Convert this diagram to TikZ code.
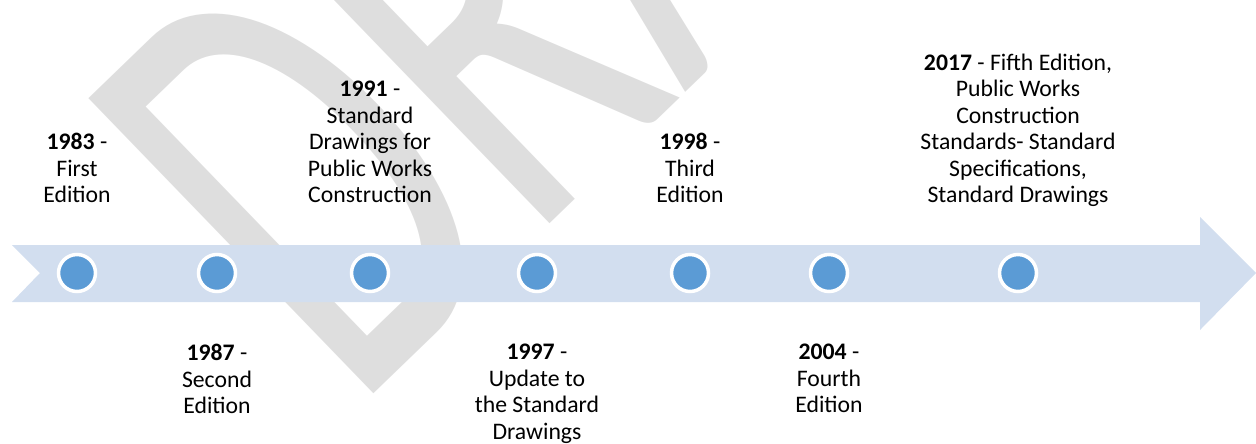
\documentclass[tikz,border=0pt]{standalone}
\usepackage{fontspec}
\setmainfont{Carlito}
\definecolor{bandblue}{HTML}{D2DEEF}
\definecolor{dotblue}{HTML}{5B9BD5}
\definecolor{wmgray}{HTML}{DEDEDE}
\begin{document}
\begin{tikzpicture}[x=0.02cm, y=-0.02cm,
    dot/.style={circle, draw=white, line width=2pt, fill=dotblue, minimum size=0.74cm, inner sep=0pt},
    toplabel/.style={align=center, anchor=south, inner sep=0pt, text depth=0pt, font=\fontsize{13.5}{15.1}\selectfont},
    botlabel/.style={align=center, anchor=north, inner sep=0pt, font=\fontsize{13.5}{15.1}\selectfont}
]
    \useasboundingbox (0,0) rectangle (1256,443);

    % watermark
    \begin{scope}
        \clip (0,0) rectangle (1256,443);
        \node[text=wmgray, rotate=44, xscale=0.62, anchor=base west, inner sep=0pt, font=\fontsize{364}{364}\selectfont] (draft) at (354,413) {DRAFT};
    \end{scope}

    % timeline arrow
    \fill[bandblue] (12,245) -- (1200,245) -- (1200,217) -- (1256,273) -- (1200,330)
        -- (1200,302) -- (12,302) -- (40,273) -- cycle;

    \node[dot] (d1983) at (77,273) {};
    \node[dot] (d1987) at (217,273) {};
    \node[dot] (d1991) at (370,273) {};
    \node[dot] (d1997) at (537,273) {};
    \node[dot] (d1998) at (690,273) {};
    \node[dot] (d2004) at (829,273) {};
    \node[dot] (d2017) at (1018,273) {};

    % labels
    \node[toplabel] (l1983) at (77,203) {\textbf{1983} -\\First\\Edition};
    \node[botlabel] (l1987) at (217,344) {\textbf{1987} -\\Second\\Edition};
    \node[toplabel] (l1991) at (370,203) {\textbf{1991} -\\Standard\\Drawings for\\Public Works\\Construction};
    \node[botlabel] (l1997) at (537,344) {\textbf{1997} -\\Update to\\the Standard\\Drawings};
    \node[toplabel] (l1998) at (690,203) {\textbf{1998} -\\Third\\Edition};
    \node[botlabel] (l2004) at (829,344) {\textbf{2004} -\\Fourth\\Edition};
    \node[toplabel] (l2017) at (1018,203) {\textbf{2017} - Fifth Edition,\\Public Works\\Construction\\Standards- Standard\\Specifications,\\Standard Drawings};
\end{tikzpicture}
\end{document}
